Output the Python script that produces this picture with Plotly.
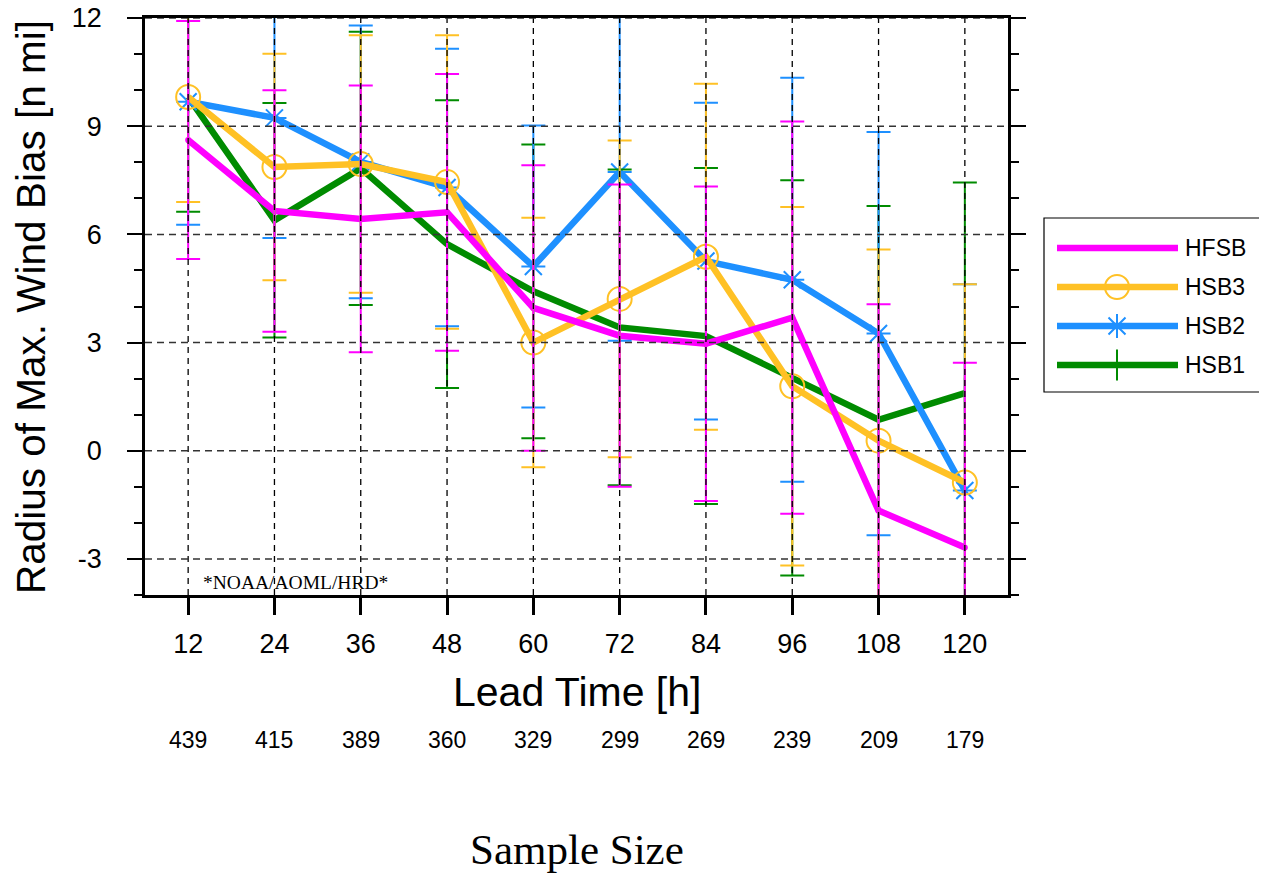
import plotly.graph_objects as go

# ---------------- data ----------------
lead_time = [12, 24, 36, 48, 60, 72, 84, 96, 108, 120]
sample_size = [439, 415, 389, 360, 329, 299, 269, 239, 209, 179]

hfsb_mean = [8.62, 6.65, 6.43, 6.61, 3.96, 3.19, 2.97, 3.69, -1.66, -2.68]
hfsb_err = [3.30, 3.35, 3.70, 3.84, 3.96, 4.19, 4.36, 5.44, 5.72, 5.12]

hsb3_mean = [9.81, 7.87, 7.95, 7.45, 3.00, 4.21, 5.38, 1.79, 0.28, -0.88]
hsb3_err = [2.91, 3.14, 3.57, 4.07, 3.46, 4.39, 4.80, 4.97, 5.30, 5.50]

hsb2_mean = [9.68, 9.23, 8.01, 7.30, 5.11, 7.73, 5.26, 4.74, 3.25, -1.10]
hsb2_err = [3.41, 3.33, 3.78, 3.85, 3.91, 4.68, 4.39, 5.60, 5.59, 5.72]

hsb1_mean = [9.81, 6.39, 7.83, 5.73, 4.42, 3.42, 3.18, 2.02, 0.86, 1.60]
hsb1_err = [3.18, 3.25, 3.79, 3.99, 4.07, 4.38, 4.66, 5.48, 5.93, 5.84]

y_ticks = [-3, 0, 3, 6, 9, 12]

series = [
    # name, mean, err, color, symbol, msize
    ("HSB1", hsb1_mean, hsb1_err, "#008B00", "line-ns", 22),
    ("HSB2", hsb2_mean, hsb2_err, "#1E90FF", "asterisk-open", 20),
    ("HSB3", hsb3_mean, hsb3_err, "#FFC125", "circle-open", 24),
    ("HFSB", hfsb_mean, hfsb_err, "#FF00FF", "circle", 4),
]
legend_order = ["HFSB", "HSB3", "HSB2", "HSB1"]

OFF = 8                      # page body margin
W, H = 1267 - OFF, 876 - OFF  # figure size
PL, PR, PT, PB = 145, 1008, 18, 595  # plot box in screen pixels

fig = go.Figure()

# lines with markers
for name, m, e, c, sym, ms in series:
    fig.add_trace(go.Scatter(
        x=lead_time, y=m, mode="lines+markers", name=name,
        line=dict(color=c, width=6.5),
        marker=dict(symbol=sym, size=ms, color=c, line=dict(color=c, width=2)),
        showlegend=False, cliponaxis=True,
    ))
# error bars on top
for name, m, e, c, sym, ms in series:
    fig.add_trace(go.Scatter(
        x=lead_time, y=m, mode="markers", name=name + " err",
        marker=dict(size=1, color="rgba(0,0,0,0)"),
        error_y=dict(type="data", array=e, symmetric=True, color=c, thickness=2, width=12),
        showlegend=False, hoverinfo="skip",
    ))

# custom legend drawn in a pixel-space overlay axis
row_y = [248, 287, 326, 365]
lx0, lx1, lmid, ltext = 1057, 1178, 1117, 1183
by_name = {s[0]: s for s in series}
for i, nm in enumerate(legend_order):
    name, m, e, c, sym, ms = by_name[nm]
    fig.add_trace(go.Scatter(
        x=[lx0, lx1], y=[row_y[i], row_y[i]], mode="lines",
        line=dict(color=c, width=6.5), xaxis="x2", yaxis="y2",
        showlegend=False, hoverinfo="skip",
    ))
    fig.add_trace(go.Scatter(
        x=[lmid], y=[row_y[i]], mode="markers",
        marker=dict(symbol=sym, size=ms, color=c, line=dict(color=c, width=2)),
        xaxis="x2", yaxis="y2", showlegend=False, hoverinfo="skip",
    ))

def px_x(p):
    return (p - OFF) / W

def px_y(p):
    return 1 - (p - OFF) / H

shapes = []
# dashed grid on top of traces
for xv in lead_time:
    shapes.append(dict(type="line", xref="x", yref="y", x0=xv, x1=xv, y0=-4, y1=12,
                       line=dict(color="black", width=1.3, dash="6px,5px"), layer="above"))
for yv in y_ticks:
    shapes.append(dict(type="line", xref="x", yref="y", x0=6, x1=126, y0=yv, y1=yv,
                       line=dict(color="#333333", width=1.5, dash="7px,5px"), layer="above"))
# legend box
shapes.append(dict(type="rect", xref="paper", yref="paper",
                   x0=px_x(1044), x1=px_x(1262), y0=px_y(392), y1=px_y(218),
                   line=dict(color="black", width=1.2), fillcolor="rgba(0,0,0,0)", layer="above"))

annotations = []
for i, nm in enumerate(legend_order):
    annotations.append(dict(x=px_x(ltext), y=px_y(row_y[i]), xref="paper", yref="paper",
                            text=nm, showarrow=False, xanchor="left", yanchor="middle",
                            font=dict(family="Liberation Sans, Arial", size=23, color="black")))
for xv, n in zip(lead_time, sample_size):
    annotations.append(dict(x=xv, y=px_y(740), xref="x", yref="paper", text=str(n),
                            showarrow=False, xanchor="center", yanchor="middle",
                            font=dict(family="Liberation Sans, Arial", size=23, color="black")))
annotations += [
    dict(x=px_x(577), y=px_y(692), xref="paper", yref="paper", text="Lead Time [h]",
         showarrow=False, xanchor="center", yanchor="middle",
         font=dict(family="Liberation Sans, Arial", size=41, color="black")),
    dict(x=px_x(577), y=px_y(849), xref="paper", yref="paper", text="Sample Size",
         showarrow=False, xanchor="center", yanchor="middle",
         font=dict(family="Liberation Serif, Times New Roman", size=43, color="black")),
    dict(x=px_x(31), y=px_y(307), xref="paper", yref="paper",
         text="Radius of Max. Wind Bias [n mi]", textangle=-90,
         showarrow=False, xanchor="center", yanchor="middle",
         font=dict(family="Liberation Sans, Arial", size=40.5, color="black")),
    dict(x=px_x(295), y=px_y(582), xref="paper", yref="paper", text="*NOAA/AOML/HRD*",
         showarrow=False, xanchor="center", yanchor="middle",
         font=dict(family="Liberation Serif, Times New Roman", size=19.5, color="black")),
]

fig.update_layout(
    width=W, height=H,
    margin=dict(l=0, r=0, t=0, b=0, pad=0),
    paper_bgcolor="white", plot_bgcolor="rgba(0,0,0,0)",
    showlegend=False,
    xaxis=dict(
        domain=[px_x(PL), px_x(PR)], range=[6, 126], automargin=False,
        tickmode="array", tickvals=lead_time, ticktext=[str(v) for v in lead_time],
        ticks="outside", ticklen=17, tickwidth=2.5, tickcolor="black",
        showline=True, linewidth=2.5, linecolor="black", mirror=True,
        showgrid=False, zeroline=False,
        tickfont=dict(family="Liberation Sans, Arial", size=27, color="black"),
        ticklabelstandoff=6, ticklabeloverflow="allow",
    ),
    yaxis=dict(
        domain=[px_y(PB), px_y(PT)], range=[-4, 12], automargin=False,
        tickmode="array", tickvals=y_ticks, ticktext=[str(v) for v in y_ticks],
        ticks="outside", ticklen=15, tickwidth=2, tickcolor="black",
        minor=dict(dtick=1, ticks="outside", ticklen=8, tickwidth=1.5, tickcolor="black", showgrid=False),
        showline=True, linewidth=2.5, linecolor="black", mirror="ticks",
        showgrid=False, zeroline=False,
        tickfont=dict(family="Liberation Sans, Arial", size=27, color="black"),
        ticklabelstandoff=20, ticklabeloverflow="allow",
    ),
    xaxis2=dict(domain=[0, 1], range=[OFF, OFF + W], visible=False, fixedrange=True,
                automargin=False, anchor="y2"),
    yaxis2=dict(domain=[0, 1], range=[OFF + H, OFF], visible=False, fixedrange=True,
                automargin=False, anchor="x2"),
    shapes=shapes,
    annotations=annotations,
)

fig.write_html("out.html")
